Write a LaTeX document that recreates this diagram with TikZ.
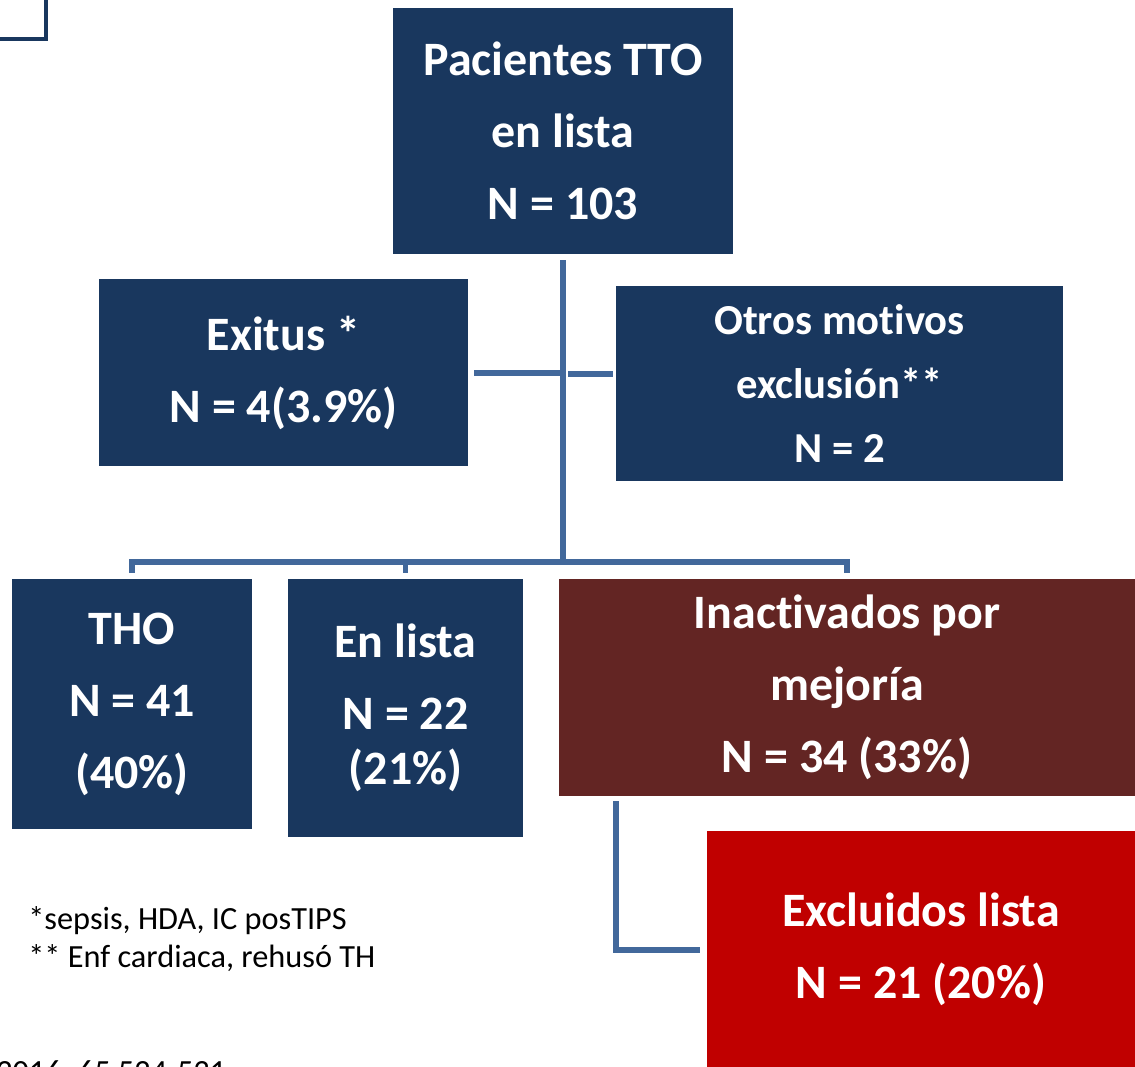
\documentclass[tikz,border=0pt]{standalone}
\usepackage{fontspec}
\setmainfont{Carlito}[Ligatures=NoCommon]
\usepackage{tikz}
\usetikzlibrary{calc}
\usepackage{xcolor}
\definecolor{boxnavy}{RGB}{25, 55, 94}
\definecolor{boxbrown}{RGB}{99, 37, 35}
\definecolor{boxred}{RGB}{192, 0, 0}
\definecolor{linkblue}{RGB}{66, 104, 155}
\tikzset{
  % Cajas del diagrama
  navybox/.style  = {fill=boxnavy, draw=none, text=white, align=center,
                     font=\bfseries\fontsize{27.3}{41}\selectfont, inner sep=0pt},
  brownbox/.style = {navybox, fill=boxbrown},
  redbox/.style   = {navybox, fill=boxred},
  % Conectores
  link/.style     = {draw=linkblue, line width=3.3pt},
  % Notas
  note/.style     = {font=\fontsize{18.4}{21.5}\selectfont, align=left, inner sep=0pt},
}

\begin{document}
\begin{tikzpicture}[x=0.02cm, y=-0.02cm]
  \useasboundingbox (0,0) rectangle (1135,1067);
  % resto del marco
  \draw[boxnavy, line width=2.4pt] (0,39) -- (46,39) -- (46,-5);

  % Cajas
  \node[navybox, minimum width=6.8cm, minimum height=4.92cm] (tto) at (563,131)
    {Pacientes TTO\\en lista\\N = 103};
  \node[navybox, minimum width=7.38cm, minimum height=3.74cm] (exitus) at (283.5,372.5)
    {Exitus *\\N = 4(3.9\%)};
  \node[navybox, minimum width=8.94cm, minimum height=3.9cm,
        font=\bfseries\fontsize{24.3}{36.5}\selectfont] (otros) at (839.5,383.5)
    {Otros motivos\\exclusión**\\N = 2};
  \node[navybox, minimum width=4.8cm, minimum height=5cm] (tho) at (132,704)
    {THO\\N = 41\\(40\%)};
  \node[navybox, minimum width=4.7cm, minimum height=5.16cm] (lista) at (405.5,708)
    {En lista\\N = 22\\[-10pt](21\%)};
  \node[brownbox, minimum width=11.52cm, minimum height=4.34cm] (inact) at (847,687.5)
    {Inactivados por\\mejoría\\N = 34 (33\%)};
  \node[redbox, minimum width=8.56cm, minimum height=4.72cm] (excl) at (921,949)
    {Excluidos lista\\N = 21 (20\%)};

  % Conectores
  \coordinate (split) at (563,562);
  \draw[link] ($(tto.south)+(0,6)$) -- (split);
  \draw[link] (exitus.east |- 0,373) ++(6,0) -- (560,373);
  \draw[link] (568,374) -- ($(otros.west |- 0,374)+(-3,0)$);
  \draw[link] ($(tho.north)+(0,-6)$) -- (tho.north |- split) -- (inact.north |- split)
    -- ($(inact.north)+(0,-6)$);
  \draw[link] (lista.north |- split) -- ($(lista.north)+(0,-6)$);
  \draw[link] (616,801) -- (616,950) -- ($(excl.west |- 0,950)+(-7,0)$);

  % Notas
  \node[note, anchor=north west] (notas) at (28,906)
    {*sepsis, HDA, IC posTIPS\\** Enf cardiaca, rehusó TH};
  \node[note, anchor=base west] (cita) at (-4,1082) {2016; 65 524-531};
\end{tikzpicture}
\end{document}
